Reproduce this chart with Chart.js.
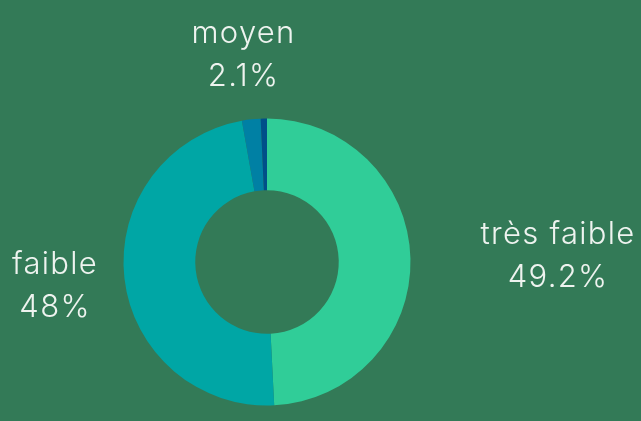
<!DOCTYPE html>
<html>
<head>
<meta charset="utf-8">
<script src="https://cdn.jsdelivr.net/npm/chart.js@4"></script>
<style>
  html, body { margin: 0; padding: 0; background: #337a57; }
  #wrap { width: 641px; height: 421px; }
</style>
</head>
<body>
<div id="wrap"><canvas id="myChart" width="641" height="421"></canvas></div>
<script>
var categories = ['très faible', 'faible', 'moyen', 'élevé']
var values = [49.2, 48, 2.1, 0.7]
var colors = ['#30cd98', '#00a6a5', '#0080a4', '#004f89']

// labels outside the ring, aligned like radial point labels, kept inside the canvas
var outsideLabels = {
    id: 'outsideLabels',
    afterDatasetsDraw: function(chart) {
        var ctx = chart.ctx
        var meta = chart.getDatasetMeta(0)
        var W = chart.width, H = chart.height
        var fontSize = 31, lineH = 43
        var padL = 12, padR = 4, padT = 12
        ctx.save()
        ctx.font = '300 ' + fontSize + 'px Inter, Lato, sans-serif'
        ctx.letterSpacing = '1.3px'
        ctx.fillStyle = '#eef3ef'
        ctx.textAlign = 'center'
        ctx.textBaseline = 'middle'
        meta.data.forEach(function(arc, i) {
            var v = values[i]
            if (v < 1) return
            var lines = [categories[i], v + '%']
            var p = arc.getProps(['x', 'y', 'startAngle', 'endAngle', 'outerRadius'], true)
            var a = (p.startAngle + p.endAngle) / 2
            var dx = Math.cos(a), dy = Math.sin(a)
            var w = 0
            lines.forEach(function(t) { w = Math.max(w, ctx.measureText(t).width) })
            var hw = w / 2, hh = lineH * lines.length / 2
            var d = p.outerRadius + 70
            var cx = p.x + dx * d, cy = p.y + dy * d
            if (Math.abs(dx) > 0.3) cx += dx > 0 ? hw : -hw
            if (Math.abs(dy) > 0.3) cy += dy > 0 ? hh : -hh
            cx = Math.min(Math.max(cx, hw + padL), W - hw - padR)
            cy = Math.min(Math.max(cy, hh + padT), H - hh - padT)
            lines.forEach(function(t, k) {
                ctx.fillText(t, cx, cy - hh + lineH * (k + 0.5))
            })
        })
        ctx.restore()
    }
}

var ctx = document.getElementById('myChart')
var myChart = new Chart(ctx, {
    type: 'doughnut',
    data: {
        labels: categories,
        datasets: [{
            data: values,
            backgroundColor: colors,
            borderWidth: 0,
        }],
    },
    options: {
        responsive: false,
        animation: false,
        cutout: '50%',
        layout: {
            padding: { left: 123.5, right: 230.5, top: 118.5, bottom: 15.5 }
        },
        plugins: {
            legend: { display: false },
            tooltip: { enabled: false },
        },
    },
    plugins: [outsideLabels],
});
</script>
</body>
</html>
